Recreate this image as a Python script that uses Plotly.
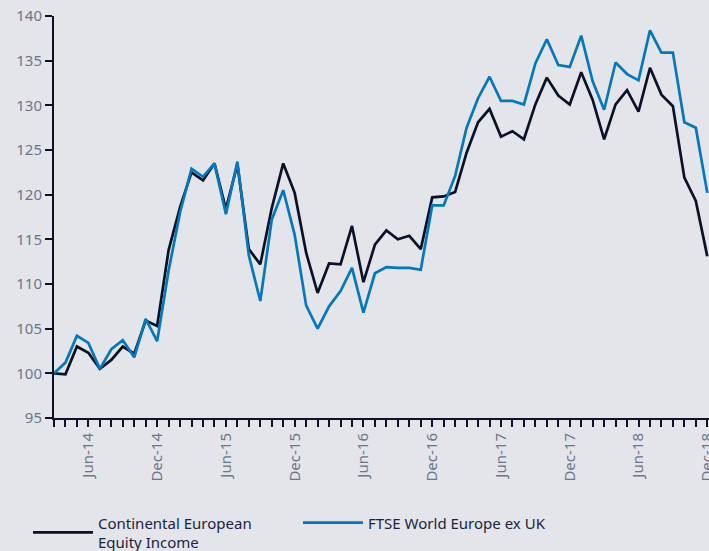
import plotly.graph_objects as go

months = [
    "Mar-14", "Apr-14", "May-14", "Jun-14", "Jul-14", "Aug-14", "Sep-14", "Oct-14", "Nov-14", "Dec-14",
    "Jan-15", "Feb-15", "Mar-15", "Apr-15", "May-15", "Jun-15", "Jul-15", "Aug-15", "Sep-15", "Oct-15",
    "Nov-15", "Dec-15", "Jan-16", "Feb-16", "Mar-16", "Apr-16", "May-16", "Jun-16", "Jul-16", "Aug-16",
    "Sep-16", "Oct-16", "Nov-16", "Dec-16", "Jan-17", "Feb-17", "Mar-17", "Apr-17", "May-17", "Jun-17",
    "Jul-17", "Aug-17", "Sep-17", "Oct-17", "Nov-17", "Dec-17", "Jan-18", "Feb-18", "Mar-18", "Apr-18",
    "May-18", "Jun-18", "Jul-18", "Aug-18", "Sep-18", "Oct-18", "Nov-18", "Dec-18",
]

continental = [
    100.0, 99.9, 103.0, 102.3, 100.5, 101.5, 103.0, 102.2, 105.9, 105.3,
    113.8, 118.6, 122.5, 121.6, 123.5, 118.4, 123.4, 113.9, 112.2, 118.5,
    123.5, 120.2, 113.5, 109.0, 112.3, 112.2, 116.5, 110.2, 114.4, 116.0,
    115.0, 115.4, 113.9, 119.7, 119.8, 120.3, 124.7, 128.1, 129.6, 126.5,
    127.1, 126.2, 130.1, 133.1, 131.1, 130.1, 133.7, 130.6, 126.2, 130.1,
    131.7, 129.3, 134.2, 131.2, 129.9, 121.9, 119.3, 113.1,
]

ftse = [
    100.0, 101.2, 104.2, 103.4, 100.5, 102.7, 103.7, 101.8, 106.1, 103.6,
    111.5, 118.0, 122.9, 122.0, 123.5, 117.8, 123.7, 113.2, 108.1, 117.2,
    120.5, 115.5, 107.6, 105.0, 107.5, 109.2, 111.8, 106.8, 111.2, 111.9,
    111.8, 111.8, 111.6, 118.8, 118.8, 122.1, 127.5, 130.8, 133.2, 130.5,
    130.5, 130.1, 134.7, 137.4, 134.5, 134.3, 137.8, 132.7, 129.5, 134.8,
    133.5, 132.8, 138.4, 135.9, 135.9, 128.1, 127.5, 120.2,
]

tick_text = [m if m.startswith(("Jun", "Dec")) else "" for m in months]

NAVY = "#0b1126"
BLUE = "#0577bd"
GREY = "#6c7589"
BG = "#e3e5ea"
FONT = "Noto Sans"

fig = go.Figure()
fig.add_trace(go.Scatter(
    x=months, y=continental, mode="lines",
    name="Continental European<br>Equity Income",
    line=dict(color=NAVY, width=2.7),
))
fig.add_trace(go.Scatter(
    x=months, y=ftse, mode="lines",
    name="FTSE World Europe ex UK",
    line=dict(color=BLUE, width=2.7),
))

fig.update_layout(
    width=709, height=551,
    margin=dict(l=54, r=0, t=16, b=133, autoexpand=False),
    paper_bgcolor=BG, plot_bgcolor=BG,
    font=dict(family=FONT, color=GREY, size=15),
    showlegend=True,
    legend=dict(
        orientation="h",
        x=-0.0397, y=-0.22, xanchor="left", yanchor="top",
        itemwidth=60,
        entrywidth=195,
        font=dict(family=FONT, size=15, color="#1b2440"),
        bgcolor="rgba(0,0,0,0)",
        tracegroupgap=0,
    ),
    xaxis=dict(
        type="category",
        range=[0, 57.15],
        tickmode="array",
        tickvals=months,
        ticktext=tick_text,
        tickangle=-90,
        ticks="outside", ticklen=7, tickwidth=2, tickcolor=NAVY,
        showline=True, linecolor=NAVY, linewidth=2,
        showgrid=False, zeroline=False,
        tickfont=dict(family=FONT, size=15, color=GREY),
        ticklabeloverflow="allow",
        automargin=False,
        fixedrange=True,
    ),
    yaxis=dict(
        range=[95, 140],
        dtick=5, tick0=95,
        ticks="outside", ticklen=7, tickwidth=2, tickcolor=NAVY,
        showline=True, linecolor=NAVY, linewidth=2,
        showgrid=False, zeroline=False,
        tickfont=dict(family=FONT, size=15, color=GREY),
        ticklabeloverflow="allow",
        automargin=False,
        fixedrange=True,
    ),
)

fig.write_html(
    "out.html",
    config={"displayModeBar": False},
    post_script="document.body.style.margin='0';document.body.style.overflow='hidden';",
)
